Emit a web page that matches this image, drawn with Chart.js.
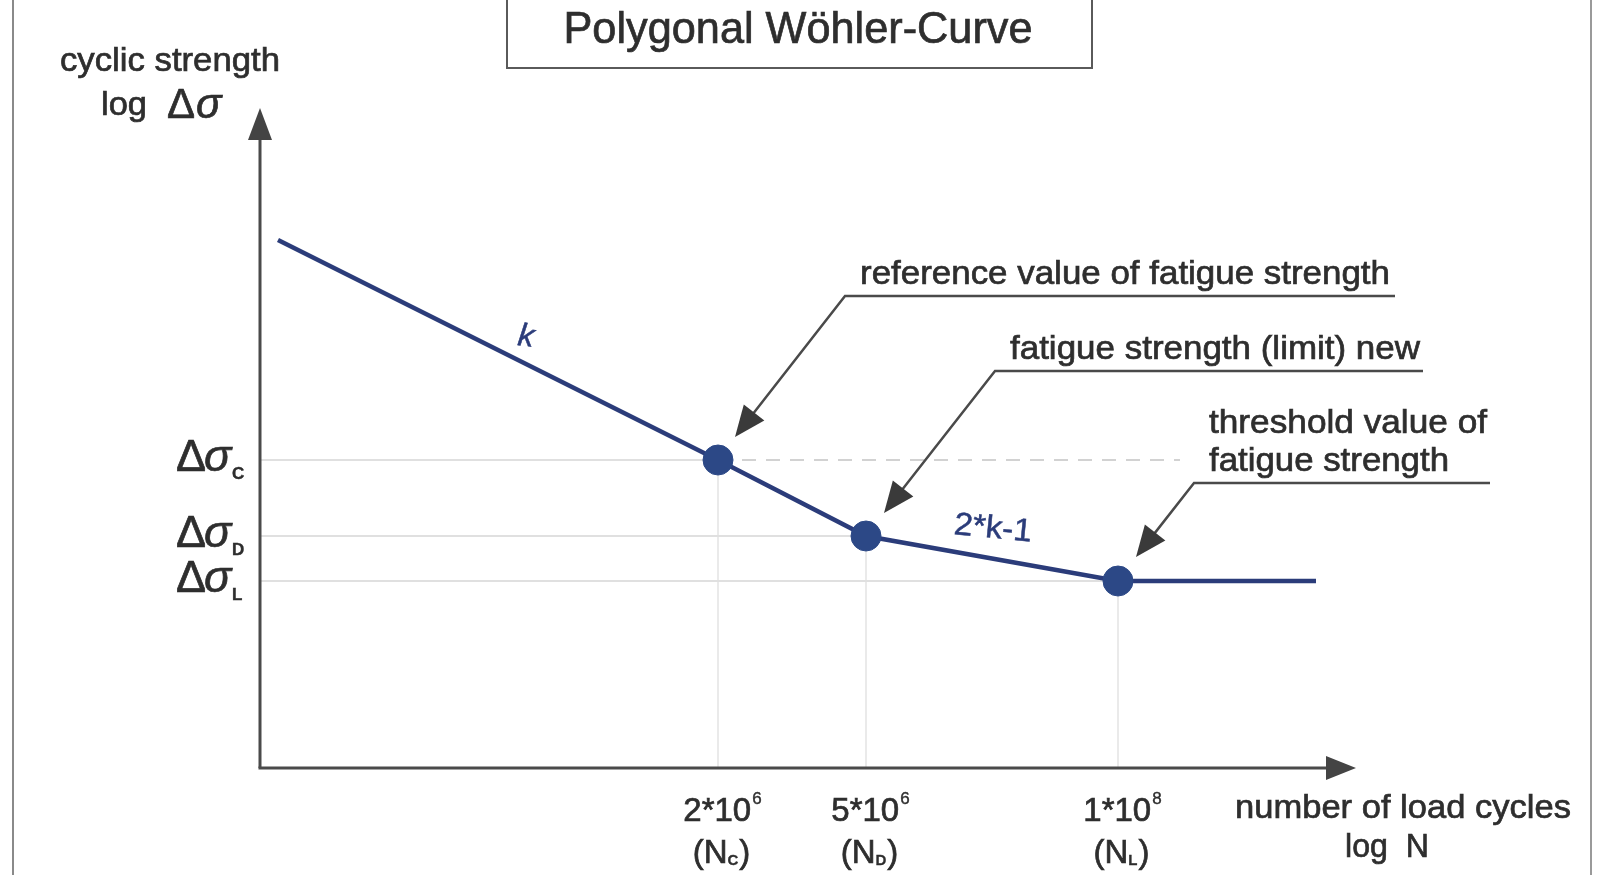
<!DOCTYPE html>
<html><head><meta charset="utf-8">
<script src="https://cdn.jsdelivr.net/npm/chart.js@4.4.1/dist/chart.umd.min.js"></script>
<style>html,body{margin:0;padding:0;background:#fff}#wrap{width:1600px;height:875px;position:relative}</style>
</head><body><div id="wrap"><canvas id="c"></canvas></div>
<script>
// ---- data (schematic units: log N on x, log Δσ on y) ----
const curveX = [1.8, 45.8, 60.6, 85.8, 105.6];
const curveY = [52.8, 30.8, 23.2, 18.7, 18.7];
const keyNames = ['C', 'D', 'L'];
const keyX = [45.8, 60.6, 85.8];
const keyY = [30.8, 23.2, 18.7];
const tickMantissa = ['2*10', '5*10', '1*10'];
const tickExponent = ['6', '6', '8'];
const dashEndX = [92.0];
const annotationTexts = [['reference value of fatigue strength'], ['fatigue strength (limit) new'], ['threshold value of', 'fatigue strength']];
const slopeLabels = ['k', '2*k-1'];
const titleText = 'Polygonal Wöhler-Curve';
const yTitle = ['cyclic strength', 'log'];
const xTitle = ['number of load cycles', 'log  N'];

const FONT = "'Liberation Sans', Arial, Helvetica, sans-serif";
const TXT = '#2e2e2e';
const NAVY = '#2b3c7a';

function txt(ctx, s, x, y, o) {
  ctx.save();
  ctx.font = (o.style || '') + ' ' + (o.weight || '') + ' ' + o.size + 'px ' + (o.family || FONT);
  ctx.fillStyle = o.color || TXT;
  ctx.strokeStyle = o.color || TXT;
  ctx.lineWidth = o.stroke === undefined ? 0.7 : o.stroke;
  ctx.textBaseline = o.baseline || 'middle';
  ctx.textAlign = 'left';
  const w = ctx.measureText(s).width;
  const sx = o.width ? o.width / w : 1;
  ctx.translate(x, y);
  if (o.rot) ctx.rotate(o.rot);
  ctx.scale(sx, 1);
  const a = o.align || 'left';
  const dx = a === 'center' ? -w / 2 : a === 'right' ? -w : 0;
  ctx.fillText(s, dx, 0);
  if (ctx.lineWidth > 0) ctx.strokeText(s, dx, 0);
  ctx.restore();
  return w * sx;
}
function measure(ctx, s, size, style, weight) {
  ctx.save();
  ctx.font = (style || '') + ' ' + (weight || '') + ' ' + size + 'px ' + FONT;
  const w = ctx.measureText(s).width; ctx.restore(); return w;
}
function arrowHead(ctx, fx, fy, tx, ty, len, half, color) {
  const a = Math.atan2(ty - fy, tx - fx);
  ctx.save();
  ctx.fillStyle = color;
  ctx.beginPath();
  ctx.moveTo(tx, ty);
  ctx.lineTo(tx - len * Math.cos(a) + half * Math.sin(a), ty - len * Math.sin(a) - half * Math.cos(a));
  ctx.lineTo(tx - len * Math.cos(a) - half * Math.sin(a), ty - len * Math.sin(a) + half * Math.cos(a));
  ctx.closePath(); ctx.fill();
  ctx.restore();
}
function line(ctx, pts, color, w) {
  ctx.save(); ctx.strokeStyle = color; ctx.lineWidth = w; ctx.lineJoin = 'miter';
  ctx.beginPath(); ctx.moveTo(pts[0][0], pts[0][1]);
  for (let i = 1; i < pts.length; i++) ctx.lineTo(pts[i][0], pts[i][1]);
  ctx.stroke(); ctx.restore();
}

const hGrid = keyX.map((x, i) => ({
  data: [{x: 0, y: keyY[i]}, {x: x, y: keyY[i]}],
  showLine: true, pointRadius: 0, borderColor: '#e0e0e0', borderWidth: 2, order: 10
}));
const vGrid = keyX.map((x, i) => ({
  data: [{x: x, y: 0}, {x: x, y: keyY[i]}],
  showLine: true, pointRadius: 0, borderColor: '#e3e3e3', borderWidth: 1.5, order: 10
}));
const dashExt = {
  data: [{x: keyX[0], y: keyY[0]}, {x: dashEndX[0], y: keyY[0]}],
  showLine: true, pointRadius: 0, borderColor: '#d2d2d2', borderWidth: 2, borderDash: [14, 10], order: 9
};
const curve = {
  data: curveX.map((x, i) => ({x: x, y: curveY[i]})),
  showLine: true, pointRadius: 0, borderColor: NAVY, borderWidth: 4.5, order: 2
};
const keyPts = {
  data: keyX.map((x, i) => ({x: x, y: keyY[i]})),
  showLine: false, pointRadius: 15, pointBackgroundColor: '#2c4886', pointBorderColor: '#2c4886', order: 1
};

const decor = {
  id: 'decor',
  afterDraw(chart) {
    const ctx = chart.ctx, xs = chart.scales.x, ys = chart.scales.y, ca = chart.chartArea;
    const X = v => xs.getPixelForValue(v), Y = v => ys.getPixelForValue(v);
    // page frame
    line(ctx, [[13, 0], [13, 875]], '#8a8a8a', 2);
    line(ctx, [[1591, 0], [1591, 875]], '#9a9a9a', 2);
    // title box
    ctx.save(); ctx.strokeStyle = '#5a5a5a'; ctx.lineWidth = 2;
    ctx.strokeRect(507, -4, 585, 72); ctx.restore();
    txt(ctx, titleText, 798, 31, {size: 44, align: 'center', width: 469});
    // y-axis title
    txt(ctx, yTitle[0], 170, 62, {size: 34, align: 'center', width: 220});
    txt(ctx, yTitle[1], 101, 106, {size: 34, width: 46});
    txt(ctx, 'Δ', 167, 106, {size: 42});
    txt(ctx, 'σ', 196, 106, {size: 42, style: 'italic'});
    // axes
    const ox = ca.left, oy = ca.bottom;
    line(ctx, [[ox, oy], [ox, ca.top + 28]], '#4a4a4a', 3);
    arrowHead(ctx, ox, ca.top + 60, ox, ca.top, 32, 12, '#444');
    line(ctx, [[ox - 1.5, oy], [ca.right - 26, oy]], '#4a4a4a', 3);
    arrowHead(ctx, ca.right - 60, oy, ca.right, oy, 30, 12, '#444');
    // y labels Δσ_X
    keyY.forEach((v, i) => {
      const py = Y(v);
      txt(ctx, 'Δ', 176, py + 11, {size: 45, baseline: 'alphabetic'});
      txt(ctx, 'σ', 204, py + 11, {size: 45, style: 'italic', baseline: 'alphabetic'});
      txt(ctx, keyNames[i], 232, py + 19, {size: 17, weight: 'bold', baseline: 'alphabetic', stroke: 0.4});
    });
    // x tick labels
    keyX.forEach((v, i) => {
      const px = X(v);
      const m = tickMantissa[i], e = tickExponent[i];
      const wm = measure(ctx, m, 33), we = measure(ctx, e, 17);
      const sx = px + 4 - (wm + we) / 2;
      txt(ctx, m, sx, 821, {size: 33, baseline: 'alphabetic'});
      txt(ctx, e, sx + wm + 1, 804, {size: 17, baseline: 'alphabetic', stroke: 0.4});
      const wp = measure(ctx, '(N', 33), ws = measure(ctx, keyNames[i], 15, '', 'bold'), wq = measure(ctx, ')', 33);
      const tx = px + 3 - (wp + ws + wq) / 2;
      txt(ctx, '(N', tx, 863, {size: 33, baseline: 'alphabetic'});
      txt(ctx, keyNames[i], tx + wp, 865, {size: 15, weight: 'bold', baseline: 'alphabetic', stroke: 0.3});
      txt(ctx, ')', tx + wp + ws + 1, 863, {size: 33, baseline: 'alphabetic'});
    });
    // x-axis title
    txt(ctx, xTitle[0], 1403, 809, {size: 34, align: 'center', width: 336});
    txt(ctx, xTitle[1], 1387, 848, {size: 34, align: 'center', width: 84});
    // annotations with leader arrows
    const ann = [
      {knee: [845, 296], end: 1395, off: [17, -23], lines: [[860, 275, 530]]},
      {knee: [995, 371], end: 1423, off: [18, -23], lines: [[1010, 350, 410]]},
      {knee: [1194, 483], end: 1490, off: [18, -24], lines: [[1209, 424, 278], [1209, 462, 240]]}
    ];
    ann.forEach((a, i) => {
      const tip = [X(keyX[i]) + a.off[0], Y(keyY[i]) + a.off[1]];
      const ang = Math.atan2(tip[1] - a.knee[1], tip[0] - a.knee[0]);
      const stop = [tip[0] - 24 * Math.cos(ang), tip[1] - 24 * Math.sin(ang)];
      line(ctx, [[a.end, a.knee[1]], a.knee, stop], '#4a4a4a', 2.5);
      arrowHead(ctx, a.knee[0], a.knee[1], tip[0], tip[1], 31, 13, '#3a3a3a');
      a.lines.forEach((l, j) => txt(ctx, annotationTexts[i][j], l[0], l[1], {size: 34, width: l[2]}));
    });
    // slope labels
    txt(ctx, slopeLabels[0], X(26.6), Y(43.1), {size: 32, style: 'italic', color: NAVY, align: 'center', rot: 0.12, stroke: 0.5});
    txt(ctx, slopeLabels[1], X(73.3), Y(23.9), {size: 32, color: NAVY, align: 'center', width: 78, rot: 0.1, stroke: 0.5});
  }
};

Chart.defaults.font.family = FONT;
new Chart(document.getElementById('c'), {
  type: 'scatter',
  data: {datasets: [...hGrid, ...vGrid, dashExt, curve, keyPts]},
  options: {
    responsive: true, maintainAspectRatio: false, animation: false,
    layout: {padding: {left: 260, right: 244, top: 108, bottom: 107}},
    plugins: {legend: {display: false}, tooltip: {enabled: false}},
    elements: {line: {tension: 0}},
    datasets: {scatter: {clip: false}},
    scales: {
      x: {type: 'linear', min: 0, max: 109.6, display: false},
      y: {type: 'linear', min: 0, max: 66, display: false}
    }
  },
  plugins: [decor]
});
</script>
</body></html>
